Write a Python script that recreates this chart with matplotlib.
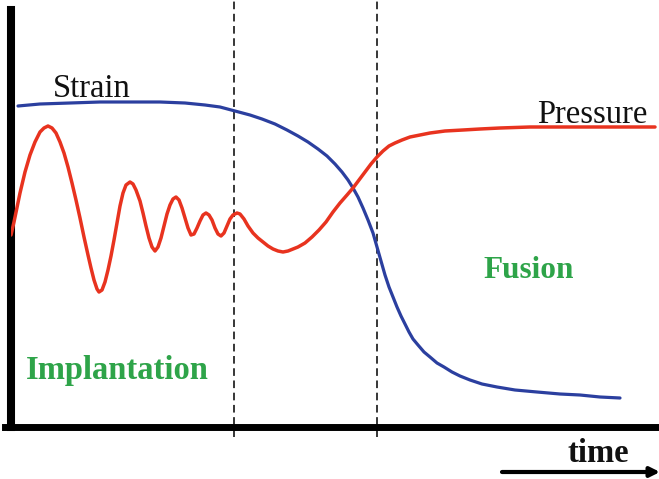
import matplotlib
matplotlib.use("Agg")
import matplotlib.pyplot as plt

plt.rcParams["font.family"] = ["Liberation Serif", "DejaVu Serif"]

# curves, (time, level) in arbitrary units
strain_pts = [
    (7, 321), (29, 323), (59, 324), (89, 325), (122, 325), (149, 325),
    (174, 324), (194, 322), (209, 320), (224, 316), (239, 312), (251, 308),
    (264, 303), (276, 297), (287, 291), (297, 285), (307, 278), (316, 271),
    (324, 263), (331, 255), (337, 247), (342, 239), (347, 230), (352, 219),
    (357, 207), (362, 194), (366, 180), (370, 166), (374, 152), (378, 140),
    (382, 130), (386, 120), (390, 111), (394, 103), (398, 95), (402, 88),
    (407, 82), (413, 75), (419, 70), (426, 64), (433, 60), (441, 55),
    (449, 51), (459, 47), (471, 43), (486, 40), (504, 37), (526, 35),
    (549, 33), (569, 32), (589, 30), (609, 29),
]

pressure_pts = [
    (0, 192), (3, 205), (9, 234), (14, 255), (19, 272), (24, 285), (29, 295),
    (33, 299), (37, 301), (41, 299), (45, 294), (49, 285), (53, 274),
    (57, 260), (61, 244), (65, 227), (69, 209), (73, 190), (77, 172),
    (80, 159), (83, 147), (86, 138), (88, 135), (91, 137), (94, 145),
    (97, 157), (100, 171), (103, 187), (106, 204), (109, 221), (112, 234),
    (115, 242), (119, 245), (122, 243), (125, 237), (129, 226), (132, 214),
    (135, 201), (138, 189), (141, 180), (144, 176), (147, 180), (150, 189),
    (153, 201), (156, 213), (159, 222), (162, 228), (165, 230), (168, 227),
    (171, 219), (174, 209), (177, 199), (180, 192), (183, 193), (186, 199),
    (189, 206), (192, 212), (195, 214), (198, 212), (201, 207), (204, 199),
    (207, 193), (210, 191), (213, 194), (216, 201), (219, 208), (222, 212),
    (226, 214), (229, 213), (233, 208), (237, 201), (242, 194), (247, 189),
    (252, 185), (257, 181), (262, 178), (267, 176), (272, 175), (277, 176),
    (282, 178), (287, 180), (294, 184), (301, 190), (308, 197), (315, 205),
    (322, 215), (329, 224), (336, 232), (342, 239), (348, 247), (354, 255),
    (360, 263), (366, 270), (372, 276), (378, 281), (384, 284), (391, 287),
    (399, 290), (409, 292), (419, 294), (434, 296), (452, 297), (469, 298),
    (489, 299), (519, 300), (549, 300), (589, 300), (619, 300), (644, 300),
]

phase_bounds = [223, 366]

strain_t, strain_v = zip(*strain_pts)
pressure_t, pressure_v = zip(*pressure_pts)

fig = plt.figure(figsize=(6.59, 4.79), dpi=100)
ax = fig.add_axes([11 / 659, 52 / 479, 648 / 659, 417 / 479])

ax.plot(strain_t, strain_v, color="#2b3f9f", lw=2.3, solid_capstyle="round",
        solid_joinstyle="round", zorder=3)
ax.plot(pressure_t, pressure_v, color="#e8331f", lw=2.5,
        solid_capstyle="round", solid_joinstyle="round", zorder=3)

for b in phase_bounds:
    ax.axvline(b, ymin=-0.025, ymax=1.03, color="black", lw=1.1,
               ls=(0, (5, 3)), clip_on=False, zorder=2)

ax.set_xlim(0, 648)
ax.set_ylim(0, 417)

for s in ["top", "right"]:
    ax.spines[s].set_visible(False)
ax.spines["left"].set_linewidth(5.8)
ax.spines["bottom"].set_linewidth(5.0)
ax.spines["bottom"].set_bounds(-6, 648)
ax.set_xticks([])
ax.set_yticks([])

ax.text(42, 330, "Strain", fontsize=23.5, color="#111111", va="baseline")
ax.text(636, 304, "Pressure", fontsize=23.5, color="#111111", va="baseline",
        ha="right")
ax.text(15, 48, "Implantation", fontsize=23.5, fontweight="bold",
        color="#2ea449", va="baseline")
ax.text(472, 149, "Fusion", fontsize=22.5, fontweight="bold",
        color="#2ea449", va="baseline")
ax.text(557, -35, "time", fontsize=23.5, fontweight="bold", color="#111111",
        va="baseline", clip_on=False)
ax.annotate("", xy=(649, -45), xytext=(491, -45), annotation_clip=False,
            arrowprops=dict(arrowstyle="-|>", color="black", lw=3,
                            mutation_scale=14, shrinkA=0, shrinkB=0))

fig.savefig("out.png", dpi=100)
